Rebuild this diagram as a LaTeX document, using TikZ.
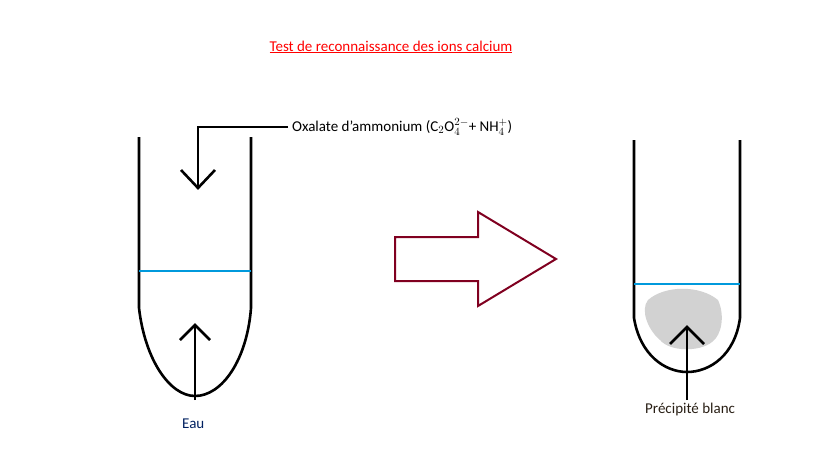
\documentclass[tikz,border=0pt]{standalone}
\usepackage{fontspec}
\setmainfont{Carlito}
\begin{document}
\begin{tikzpicture}[x=1pt,y=-1pt,
  tube/.style={line width=2.6pt},
  lvl/.style={line width=2.4pt,color={rgb,255:red,0;green,153;blue,220}},
  arr/.style={line width=2.6pt},
  lab/.style={font=\fontsize{15}{17}\selectfont,anchor=west,inner sep=0}]
\useasboundingbox (0,0) rectangle (819,460);
\node[font=\fontsize{15}{17}\selectfont,text=red] (title) at (391,47) {\underline{Test de reconnaissance des ions calcium}};
% left tube
\draw[tube] (139,137) -- (139,308) .. controls (145,360) and (170,396) .. (195,396) .. controls (222,396) and (247,360) .. (251,308) -- (251,137);
\draw[lvl] (139,271) -- (251,271);
\coordinate (w0) at (195,400); \coordinate (w1) at (195,325);
\draw[arr] (w0) -- (w1); \draw[arr] (180,340) -- (w1) -- (210,340);
\node[lab,text={rgb,255:red,0;green,32;blue,96}] (eau) at (182,424) {Eau};
\node[lab] (ox) at (292,127) {Oxalate d'ammonium (C$_2$O$_4^{2-}$+ NH$_4^{+}$)};
\coordinate (d1) at (198,188);
\draw[arr] ([xshift=-4pt]ox.west) -- (198,127) -- (d1); \draw[arr] (181,170) -- (d1) -- (215,170);
% big arrow
\draw[line width=2pt,color={rgb,255:red,128;green,0;blue,32}] (395,237) -- (478,237) -- (478,212) -- (556,259) -- (478,306) -- (478,281) -- (395,281) -- cycle;
% right tube
\fill[gray!35] (648,300) .. controls (665,285) and (700,285) .. (718,300) .. controls (725,315) and (722,335) .. (712,342) .. controls (700,352) and (670,352) .. (660,340) .. controls (648,330) and (640,310) .. (648,300) -- cycle;
\draw[tube] (634,140) -- (634,318) .. controls (640,355) and (665,372) .. (687,372) .. controls (710,372) and (735,355) .. (740,318) -- (740,140);
\draw[lvl] (634,284) -- (740,284);
\coordinate (p0) at (687,400); \coordinate (p1) at (687,327);
\draw[arr] (p0) -- (p1); \draw[arr] (670,344) -- (p1) -- (704,344);
\node[lab,text={rgb,255:red,40;green,30;blue,20}] (pb) at (645,409) {Précipité blanc};
\end{tikzpicture}
\end{document}
